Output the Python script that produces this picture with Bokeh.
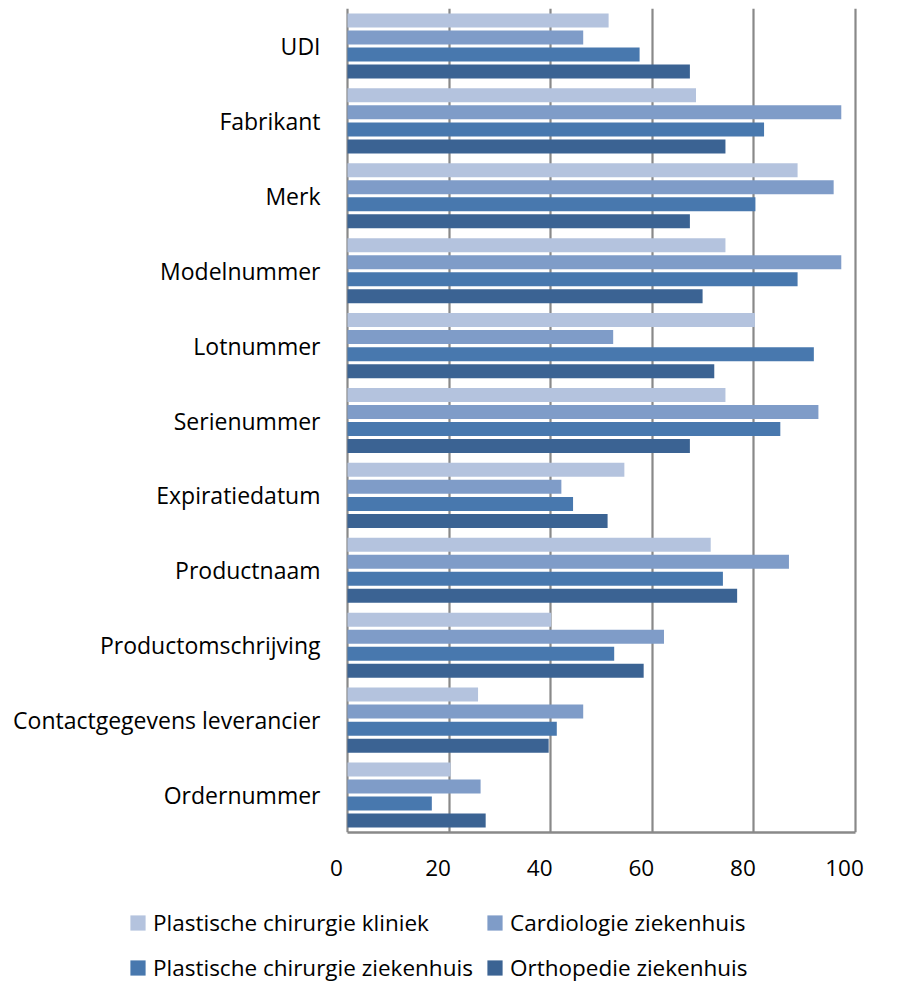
from bokeh.plotting import figure
from bokeh.layouts import column
from bokeh.models import (ColumnDataSource, FactorRange, Range1d, FixedTicker,
                          Legend, LegendItem, LinearAxis)
from bokeh.transform import dodge
from bokeh.embed import file_html
from bokeh.resources import INLINE

categories = ["UDI", "Fabrikant", "Merk", "Modelnummer", "Lotnummer", "Serienummer",
              "Expiratiedatum", "Productnaam", "Productomschrijving",
              "Contactgegevens leverancier", "Ordernummer"]
series_names = ["Plastische chirurgie kliniek", "Cardiologie ziekenhuis",
                "Plastische chirurgie ziekenhuis", "Orthopedie ziekenhuis"]
plast_kliniek = [51.4, 68.6, 88.6, 74.4, 80.2, 74.4, 54.5, 71.5, 40.1, 25.7, 20.3]
cardio_zkh = [46.4, 97.2, 95.7, 97.2, 52.3, 92.7, 42.1, 86.9, 62.3, 46.4, 26.2]
plast_zkh = [57.5, 82.0, 80.3, 88.6, 91.8, 85.2, 44.4, 73.9, 52.5, 41.2, 16.6]
ortho_zkh = [67.4, 74.4, 67.4, 69.9, 72.2, 67.4, 51.2, 76.7, 58.3, 39.6, 27.2]
x_ticks = [0, 20, 40, 60, 80, 100]

colors = ["#B4C3DE", "#7F9CC8", "#4878AE", "#3B6393"]
offsets = [0.341, 0.114, -0.114, -0.341]
FONT = "Open Sans"
GRID = "#898989"

source = ColumnDataSource(dict(cat=categories, s0=plast_kliniek, s1=cardio_zkh,
                               s2=plast_zkh, s3=ortho_zkh))

# frame is a little wider than 0..100 so the shifted tick labels fit inside
p = figure(width=897, height=900, output_backend="svg", toolbar_location=None,
           y_range=FactorRange(*reversed(categories)), x_range=Range1d(-2.165, 102.165),
           min_border_left=336, min_border_right=31, min_border_top=8,
           min_border_bottom=68)
p.frame_align = False
p.outline_line_color = None
p.background_fill_color = "white"
p.border_fill_color = "white"

renderers = []
for i in range(4):
    r = p.hbar(y=dodge("cat", offsets[i], range=p.y_range), left=0, right="s%d" % i,
               height=0.187, source=source, fill_color=colors[i], line_color=None)
    renderers.append(r)

main_ax = p.below[0]
main_ax.ticker = FixedTicker(ticks=[])
main_ax.bounds = (0, 100)
main_ax.major_label_standoff = 0
main_ax.major_tick_out = 0
main_ax.major_tick_line_color = None
main_ax.minor_tick_line_color = None
main_ax.axis_line_color = GRID
main_ax.axis_line_width = 2.5

p.extra_x_ranges = {"lbl": Range1d(0, 104.33)}
lbl_ax = LinearAxis(x_range_name="lbl", ticker=FixedTicker(ticks=x_ticks),
                    axis_line_color=None, major_tick_line_color=None,
                    minor_tick_line_color=None, major_tick_out=0,
                    major_label_standoff=27, major_label_text_font=FONT,
                    major_label_text_font_size="22.5px",
                    major_label_text_color="black")
p.add_layout(lbl_ax, "below")

p.yaxis.axis_line_color = None
p.yaxis.major_tick_line_color = None
p.yaxis.minor_tick_line_color = None
p.yaxis.major_tick_out = 0
p.yaxis.major_label_standoff = 16
p.yaxis.major_label_text_font = FONT
p.yaxis.major_label_text_font_size = "23px"
p.yaxis.major_label_text_color = "black"

p.ygrid.grid_line_color = None
p.xgrid.ticker = FixedTicker(ticks=x_ticks)
p.xgrid.grid_line_color = GRID
p.xgrid.grid_line_width = 2.2

# legend panel (its own frame spans the whole width)
lg = figure(width=897, height=84, output_backend="svg", toolbar_location=None,
            x_range=Range1d(0, 1), y_range=Range1d(0, 1), min_border=0,
            x_axis_location=None, y_axis_location=None)
lg.frame_align = False
lg.outline_line_color = None
lg.grid.visible = False
lg_rends = [lg.hbar(y=dodge("cat", offsets[i], range=p.y_range), right="s%d" % i,
                    left=0, height=0.187, source=source, fill_color=colors[i],
                    line_color=None, visible=False)
            for i in range(4)]
legend = Legend(items=[LegendItem(label=series_names[i], renderers=[lg_rends[i]])
                       for i in range(4)],
                orientation="horizontal", ncols=2, location=(128, -1),
                glyph_width=19, glyph_height=19, label_height=35, spacing=10,
                label_width=322, padding=0, margin=0, label_standoff=6,
                border_line_color=None, background_fill_alpha=0,
                inactive_fill_alpha=0,
                label_text_font=FONT, label_text_font_size="22.5px",
                label_text_color="black")
lg.add_layout(legend)

layout = column(p, lg, spacing=0)
open("out.html", "w").write(file_html(layout, INLINE))
